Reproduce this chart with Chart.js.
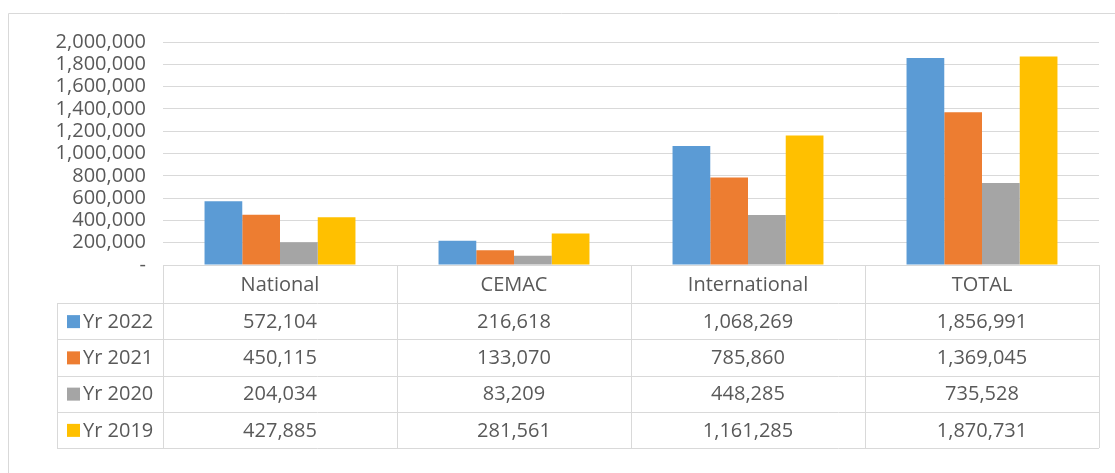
<!DOCTYPE html>
<html>
<head>
<meta charset="utf-8">
<script src="https://cdn.jsdelivr.net/npm/chart.js@4"></script>
<style>
  html, body { margin: 0; padding: 0; background: #fff; }
  #wrap { position: relative; width: 1115px; height: 473px; }
</style>
</head>
<body>
<div id="wrap"><canvas id="myBarChart" width="1115" height="473"></canvas></div>
<script>
  const categories = ['National', 'CEMAC', 'International', 'TOTAL'];
  const yr2022 = [572104, 216618, 1068269, 1856991];
  const yr2021 = [450115, 133070, 785860, 1369045];
  const yr2020 = [204034, 83209, 448285, 735528];
  const yr2019 = [427885, 281561, 1161285, 1870731];
  const seriesNames = ['Yr 2022', 'Yr 2021', 'Yr 2020', 'Yr 2019'];
  const yTickStep = 200000;
  const yMax = 2000000;

  const colors = ['#5B9BD5', '#ED7D31', '#A5A5A5', '#FFC000'];
  const textColor = '#595959';
  const lineColor = '#D9D9D9';
  const fontFamily = '"Open Sans", "Noto Sans", sans-serif';

  const fmt = v => v === 0 ? '-' : v.toLocaleString('en-US');

  // draws the data table under the plot, aligned to the category scale
  const dataTable = {
    id: 'dataTable',
    afterDraw(chart) {
      const ctx = chart.ctx;
      const area = chart.chartArea;
      const x = chart.scales.x;
      const colW = (area.right - area.left) / categories.length;
      const top = area.bottom;
      const headH = 38;
      const rowH = 36.25;
      const tableLeft = 57;
      const bottom = top + headH + rowH * seriesNames.length;
      const rows = [yr2022, yr2021, yr2020, yr2019];

      ctx.save();
      ctx.strokeStyle = lineColor;
      ctx.lineWidth = 1;
      ctx.beginPath();
      // header line
      ctx.moveTo(area.left, top + 0.5); ctx.lineTo(area.right, top + 0.5);
      for (let r = 0; r <= seriesNames.length; r++) {
        const y = Math.round(top + headH + r * rowH) + 0.5;
        ctx.moveTo(tableLeft, y); ctx.lineTo(area.right, y);
      }
      ctx.moveTo(tableLeft + 0.5, top + headH); ctx.lineTo(tableLeft + 0.5, bottom);
      for (let c = 0; c <= categories.length; c++) {
        const xx = Math.round(area.left + c * colW) + 0.5;
        ctx.moveTo(xx, top); ctx.lineTo(xx, bottom);
      }
      ctx.stroke();

      ctx.font = '20px ' + fontFamily;
      ctx.fillStyle = textColor;
      ctx.textAlign = 'center';
      ctx.textBaseline = 'middle';
      categories.forEach((cat, i) => {
        ctx.fillText(cat, x.getPixelForValue(i), top + headH / 2 + 1);
      });
      rows.forEach((vals, r) => {
        const cy = top + headH + r * rowH + rowH / 2 + 1;
        vals.forEach((v, i) => {
          ctx.fillStyle = textColor;
          ctx.textAlign = 'center';
          ctx.fillText(fmt(v), x.getPixelForValue(i), cy);
        });
        ctx.fillStyle = colors[r];
        ctx.fillRect(67, cy - 7, 13, 13);
        ctx.fillStyle = textColor;
        ctx.textAlign = 'left';
        ctx.fillText(seriesNames[r], 83, cy);
      });
      ctx.restore();
    }
  };

  // outer chart frame (top and left edges visible in the crop)
  const frame = {
    id: 'frame',
    beforeDraw(chart) {
      const ctx = chart.ctx;
      ctx.save();
      ctx.strokeStyle = '#D9D9D9';
      ctx.lineWidth = 1;
      ctx.beginPath();
      ctx.moveTo(8.5, 473); ctx.lineTo(8.5, 13.5); ctx.lineTo(1115, 13.5);
      ctx.stroke();
      ctx.restore();
    }
  };

  const ctx = document.getElementById('myBarChart').getContext('2d');
  const myBarChart = new Chart(ctx, {
    type: 'bar',
    data: {
      labels: categories,
      datasets: [yr2022, yr2021, yr2020, yr2019].map((d, i) => ({
        label: seriesNames[i],
        data: d,
        backgroundColor: colors[i],
        categoryPercentage: 0.645,
        barPercentage: 1.0,
      }))
    },
    options: {
      responsive: false,
      animation: false,
      layout: { padding: { top: 42, right: 16, bottom: 208, left: 0 } },
      plugins: {
        legend: { display: false },
        tooltip: { enabled: false },
      },
      scales: {
        x: { display: false },
        y: {
          min: 0,
          max: yMax,
          afterFit: s => { s.width = 163; },
          border: { display: false },
          grid: { color: lineColor, lineWidth: 1, drawTicks: false },
          ticks: {
            stepSize: yTickStep,
            autoSkip: false,
            padding: 17,
            color: textColor,
            font: { family: fontFamily, size: 20 },
            callback: v => fmt(v),
          }
        },
      }
    },
    plugins: [frame, dataTable]
  });
</script>
</body>
</html>
